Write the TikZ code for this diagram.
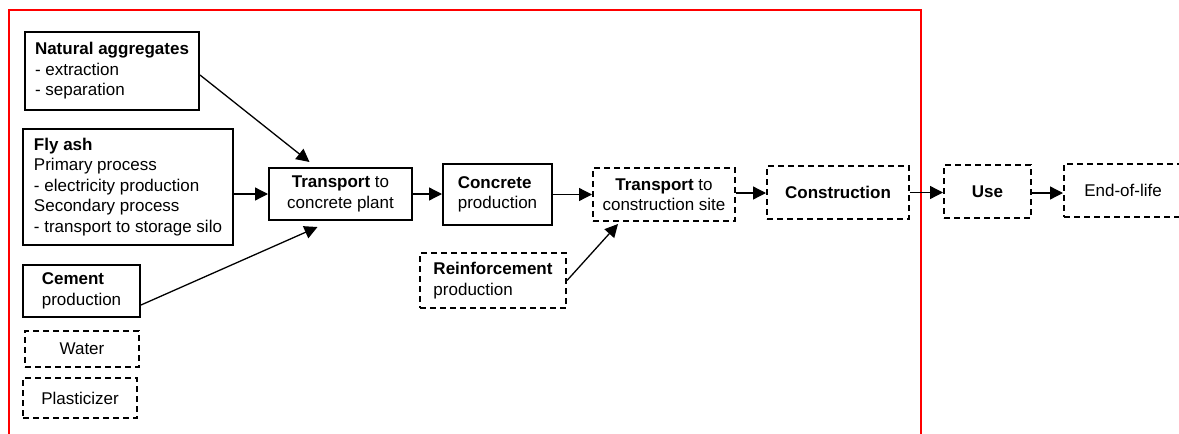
\documentclass[tikz,border=0pt]{standalone}
\usepackage{fontspec}
\setmainfont{Liberation Sans}
\usetikzlibrary{arrows.meta}
\begin{document}
\begin{tikzpicture}[x=1pt, y=-1pt,
    font=\fontsize{17}{20.5}\selectfont,
    box/.style={draw, line width=2pt, inner sep=3pt},
    dbox/.style={box, dash pattern=on 6pt off 4pt},
    arr/.style={line width=1.3pt, -{Triangle[length=13pt,width=13pt]}}]
    \useasboundingbox (0,0) rectangle (1179,434);
    % system boundary
    \draw [red, line width=2pt] (9,445) |- (921,10) -- (921,445);
    % inputs
    \node [box, minimum width=174, minimum height=78, align=left] (na) at (112,71)
      {\textbf{Natural aggregates}\\- extraction\\- separation};
    \node [box, minimum width=210, minimum height=116, align=left] (fly) at (128,187)
      {\textbf{Fly ash}\\Primary process\\- electricity production\\Secondary process\\- transport to storage silo};
    \node [box, minimum width=117, minimum height=52, align=left] (cem) at (81.5,291)
      {\textbf{Cement}\\production};
    \node [dbox, minimum width=114, minimum height=36] (wat) at (82,349) {Water};
    \node [dbox, minimum width=114, minimum height=40] (pla) at (80,398) {Plasticizer};
    % chain
    \node [box, minimum width=143, minimum height=52, align=center] (tcp) at (340.5,194)
      {\textbf{Transport} to\\concrete plant};
    \node [box, minimum width=109, minimum height=61, align=left] (cp) at (497.5,194.5)
      {\textbf{Concrete}\\production};
    \node [dbox, minimum width=142, minimum height=53, align=center] (tcs) at (664,194.5)
      {\textbf{Transport} to\\construction site};
    \node [dbox, minimum width=146, minimum height=55, align=left] (rp) at (493,280.5)
      {\textbf{Reinforcement}\\production};
    \node [dbox, minimum width=142, minimum height=53] (con) at (838,192.5) {\textbf{Construction}};
    \node [dbox, minimum width=87, minimum height=53] (use) at (987.5,191.5) {\textbf{Use}};
    \node [dbox, minimum width=118, minimum height=53] (eol) at (1123,190.5) {End-of-life};
    % flows
    \draw [arr] ([yshift=-4pt]na.east) -- ([xshift=-31pt,yshift=5pt]tcp.north);
    \draw [arr] (fly.east |- tcp) -- (tcp.west);
    \draw [arr] ([yshift=-14pt]cem.east) -- ([xshift=-23pt,yshift=-6pt]tcp.south);
    \draw [arr] (tcp.east) -- (tcp.east -| cp.west);
    \draw [arr] (cp.east) -- (cp.east -| tcs.west);
    \draw [arr] (rp.east) -- ([xshift=-46pt,yshift=-2pt]tcs.south);
    \draw [arr] ([yshift=1.5pt]tcs.east) -- ([yshift=1.5pt]tcs.east -| con.west);
    \draw [arr] (con.east) -- (con.east -| use.west);
    \draw [arr] ([yshift=-1.5pt]use.east) -- ([yshift=-1.5pt]use.east -| eol.west);
  \end{tikzpicture}
\end{document}
